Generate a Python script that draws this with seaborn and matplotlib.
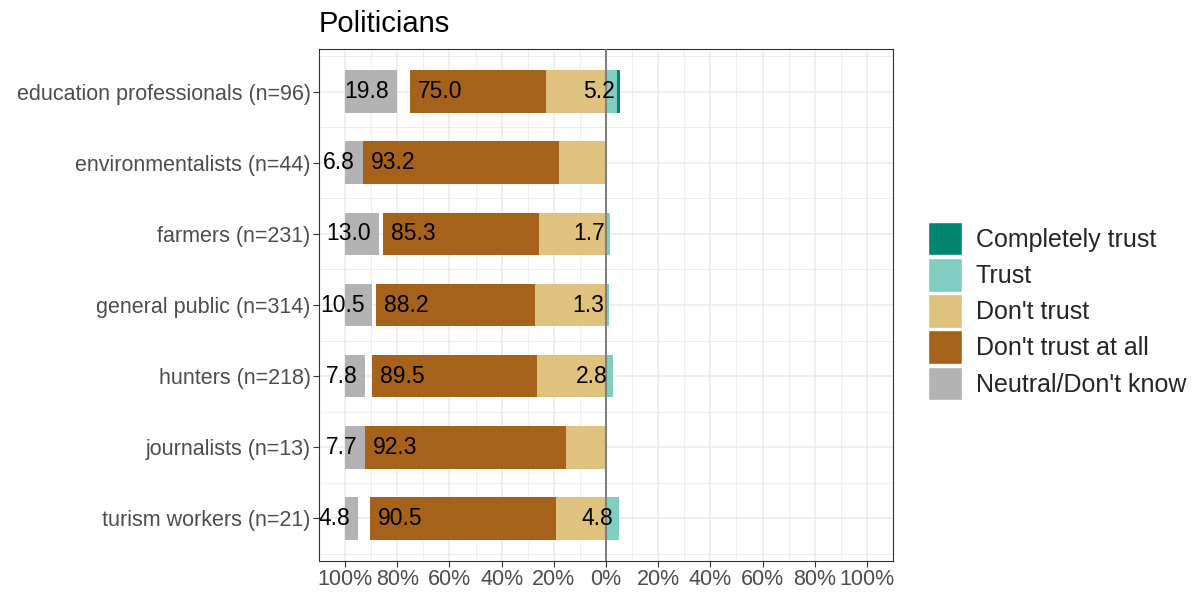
import numpy as np
import pandas as pd
import matplotlib
matplotlib.use("Agg")
import matplotlib.pyplot as plt
import seaborn as sns
from matplotlib.patches import Patch

# ---- data (percent of respondents) ----
groups = [
    "education professionals (n=96)",
    "environmentalists (n=44)",
    "farmers (n=231)",
    "general public (n=314)",
    "hunters (n=218)",
    "journalists (n=13)",
    "turism workers (n=21)",
]
completely_trust = [1.0, 0.0, 0.0, 0.0, 0.0, 0.0, 0.0]
trust = [4.2, 0.0, 1.7, 1.3, 2.8, 0.0, 4.8]
dont_trust = [22.9, 18.2, 25.5, 27.1, 26.6, 15.4, 19.0]
dont_trust_at_all = [52.1, 75.0, 59.8, 61.1, 62.9, 76.9, 71.4]
neutral = [19.8, 6.8, 13.0, 10.5, 7.8, 7.7, 4.8]
neg_labels = [75.0, 93.2, 85.3, 88.2, 89.5, 92.3, 90.5]
pos_labels = [5.2, 0.0, 1.7, 1.3, 2.8, 0.0, 4.8]
legend_labels = ["Completely trust", "Trust", "Don't trust", "Don't trust at all", "Neutral/Don't know"]

C_CT = "#018571"
C_T = "#80CDC1"
C_DT = "#DFC27D"
C_DTA = "#A6611A"
C_N = "#B3B3B3"

sns.set_theme(style="white")
plt.rcParams["font.family"] = ["Liberation Sans", "DejaVu Sans"]

df = pd.DataFrame({
    "group": groups,
    "neg_total": -(np.array(dont_trust) + np.array(dont_trust_at_all)),
    "neg_inner": -np.array(dont_trust),
    "pos_total": np.array(trust) + np.array(completely_trust),
    "pos_inner": np.array(trust),
})

fig = plt.figure(figsize=(11.97, 5.93), dpi=100)
ax = fig.add_axes([319 / 1197, 1 - 561 / 593, 574 / 1197, 512 / 593])

W = 0.6
common = dict(data=df, y="group", orient="h", width=W, ax=ax, saturation=1,
              errorbar=None, linewidth=0, zorder=3)
sns.barplot(x="neg_total", color=C_DTA, **common)
sns.barplot(x="neg_inner", color=C_DT, **common)
sns.barplot(x="pos_total", color=C_CT, **common)
sns.barplot(x="pos_inner", color=C_T, **common)
ypos = np.arange(len(groups))
ax.barh(ypos, neutral, left=-100, height=W, color=C_N, linewidth=0, zorder=3)

ax.axvline(0, color="#808080", lw=1.5, zorder=4)

# labels
fs = 16.5
for i in range(len(groups)):
    ax.text(-100 + neutral[i] - 3, i, f"{neutral[i]:.1f}", ha="right", va="center",
            fontsize=fs, color="black", zorder=5)
    ax.text(-neg_labels[i] + 3, i, f"{neg_labels[i]:.1f}", ha="left", va="center",
            fontsize=fs, color="black", zorder=5)
    if pos_labels[i] > 0:
        ax.text(pos_labels[i] - 2, i, f"{pos_labels[i]:.1f}", ha="right", va="center",
                fontsize=fs, color="black", zorder=5)

ax.set_xlim(-110, 110)
ax.set_ylim(6.6, -0.6)
xt = np.arange(-100, 101, 20)
ax.set_xticks(xt)
ax.set_xticklabels([f"{abs(v)}%" for v in xt])
ax.set_xticks(np.arange(-110, 111, 20), minor=True)
ax.set_yticks(ypos)
ax.set_yticklabels(groups)
ax.set_yticks(np.arange(-0.5, 6.6, 1.0), minor=True)
ax.set_xlabel("")
ax.set_ylabel("")

ax.set_axisbelow(True)
ax.grid(which="major", color="#EBEBEB", lw=1.1)
ax.grid(which="minor", color="#EBEBEB", lw=0.6)
ax.tick_params(which="major", axis="both", length=4, width=0.8, color="#333333",
               labelsize=15.5, labelcolor="#4D4D4D", pad=2, bottom=True, left=True)
ax.tick_params(which="minor", length=0)
for s in ax.spines.values():
    s.set_visible(True)
    s.set_color("#333333")
    s.set_linewidth(0.8)

ax.set_title("Politicians", loc="left", fontsize=21, pad=12, color="black")

handles = [Patch(facecolor=c, edgecolor="white", linewidth=1)
           for c in [C_CT, C_T, C_DT, C_DTA, C_N]]
fig.legend(handles, legend_labels, loc="center left",
           bbox_to_anchor=(928 / 1197, 1 - 311 / 593), frameon=False, fontsize=18,
           handlelength=1.35, handleheight=1.7, handletextpad=0.55, labelspacing=0.1,
           borderpad=0, borderaxespad=0)

fig.savefig("out.png", dpi=100)
